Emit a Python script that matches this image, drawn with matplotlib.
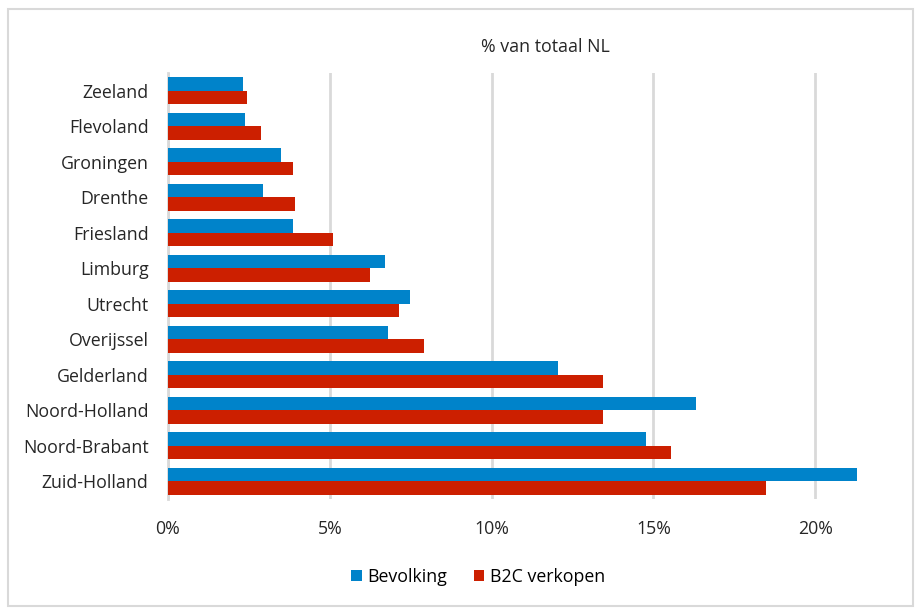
import matplotlib.pyplot as plt
from matplotlib.patches import Rectangle
from matplotlib.ticker import FuncFormatter
import numpy as np

provincies = ['Zeeland', 'Flevoland', 'Groningen', 'Drenthe', 'Friesland',
              'Limburg', 'Utrecht', 'Overijssel', 'Gelderland',
              'Noord-Holland', 'Noord-Brabant', 'Zuid-Holland']
bevolking = [2.31, 2.38, 3.50, 2.95, 3.85, 6.72, 7.49, 6.79, 12.05, 16.32, 14.78, 21.29]
b2c_verkopen = [2.44, 2.87, 3.85, 3.92, 5.11, 6.23, 7.14, 7.91, 13.45, 13.45, 15.55, 18.49]
x_ticks = [0, 5, 10, 15, 20]

plt.rcParams['font.family'] = ['Open Sans', 'DejaVu Sans']

fig = plt.figure(figsize=(9.15, 6.09), dpi=100)
ax = fig.add_axes([168 / 915, 1 - 499 / 609, (880 - 168) / 915, 426 / 609])

# light border around the whole chart
fig.patches.append(Rectangle((8 / 915, 3 / 609), 905 / 915, 597 / 609,
                             transform=fig.transFigure, fill=False,
                             edgecolor='#D9D9D9', linewidth=1.5))

y = np.arange(len(provincies))
h = 0.38
ax.barh(y - h / 2, bevolking, height=h, color='#0083CA', label='Bevolking', zorder=3)
ax.barh(y + h / 2, b2c_verkopen, height=h, color='#CC1F00', label='B2C verkopen', zorder=3)

ax.set_ylim(len(provincies) - 0.5, -0.5)
ax.set_xlim(0, 22)
ax.set_yticks(y)
ax.set_yticklabels(provincies, fontsize=12.8, color='#262626')
ax.set_xticks(x_ticks)
ax.xaxis.set_major_formatter(FuncFormatter(lambda v, p: f'{v:.0f}%'))
ax.tick_params(axis='x', labelsize=12.8, colors='#262626', length=0, pad=15)
ax.tick_params(axis='y', length=0, pad=14)
ax.grid(axis='x', color='#D9D9D9', linewidth=2, zorder=0)
for s in ['top', 'right', 'bottom']:
    ax.spines[s].set_visible(False)
ax.spines['left'].set_color('#D9D9D9')
ax.spines['left'].set_linewidth(2)

fig.text(545 / 915, 1 - 47 / 609, '% van totaal NL', ha='center', va='center',
         fontsize=12.8, color='#262626')

fig.legend(loc='center', bbox_to_anchor=(478 / 915, 1 - 577 / 609), ncol=2,
           frameon=False, fontsize=12.8, handlelength=0.6, handleheight=0.6,
           handletextpad=0.3, columnspacing=1.5)

fig.savefig('out.png', dpi=100)
